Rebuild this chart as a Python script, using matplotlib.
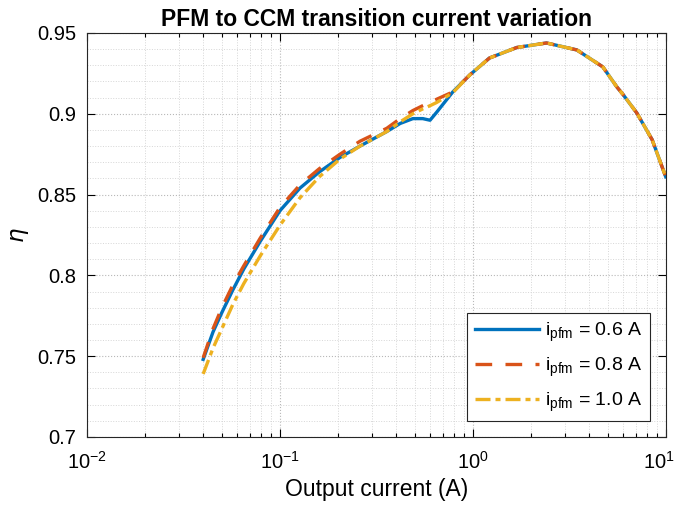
import numpy as np
import matplotlib
matplotlib.use('Agg')
import matplotlib.pyplot as plt
import matplotlib.transforms as mtransforms
from matplotlib.ticker import LogLocator, MultipleLocator, NullFormatter, FuncFormatter

plt.rcParams['font.family'] = ['Liberation Sans', 'DejaVu Sans']

# output current (A)
iout = [0.04, 0.045, 0.05, 0.057, 0.065, 0.079, 0.1, 0.127, 0.16, 0.205, 0.26,
        0.358, 0.42, 0.489, 0.55, 0.6, 0.65, 0.787, 0.964, 1.22, 1.69, 2.41,
        3.46, 4.72, 5.58, 6.0, 7.08, 8.5, 10.0]

# efficiency for each transition current
eta_06 = [0.748, 0.765, 0.777, 0.791, 0.804, 0.821, 0.840, 0.854, 0.864, 0.873, 0.880,
          0.889, 0.894, 0.897, 0.897, 0.896, 0.901, 0.9135, 0.924, 0.9345, 0.941, 0.9438,
          0.9395, 0.929, 0.9166, 0.912, 0.9005, 0.884, 0.861]
eta_08 = [0.749, 0.767, 0.780, 0.794, 0.806, 0.823, 0.842, 0.856, 0.866, 0.875, 0.883,
          0.891, 0.897, 0.902, 0.905, 0.907, 0.909, 0.9135, 0.924, 0.9345, 0.941, 0.9438,
          0.9395, 0.929, 0.9166, 0.912, 0.9005, 0.884, 0.861]
eta_10 = [0.739, 0.755, 0.767, 0.782, 0.795, 0.812, 0.831, 0.848, 0.861, 0.872, 0.880,
          0.889, 0.895, 0.900, 0.903, 0.905, 0.907, 0.913, 0.924, 0.9345, 0.941, 0.9438,
          0.9395, 0.929, 0.9166, 0.912, 0.9005, 0.884, 0.861]
labels = ['0.6', '0.8', '1.0']
xticks = [0.01, 0.1, 1, 10]

fig = plt.figure(figsize=(6.8, 5.15), dpi=100)
ax = fig.add_axes([0.128, 0.1515, 0.851, 0.7845])

ax.plot(iout, eta_06, color='#0072BD', lw=2.4, ls='-',
        label=r'$\mathregular{i_{pfm}}$ = %s A' % labels[0])
ax.plot(iout, eta_08, color='#D95319', lw=2.4, ls=(0, (5, 4)),
        label=r'$\mathregular{i_{pfm}}$ = %s A' % labels[1])
ax.plot(iout, eta_10, color='#EDB120', lw=2.4, ls=(0, (4.5, 1.5, 1.5, 1.5)),
        label=r'$\mathregular{i_{pfm}}$ = %s A' % labels[2])

ax.set_xscale('log')
ax.set_xlim(0.01, 10)
ax.set_ylim(0.7, 0.95)
ax.yaxis.set_major_locator(MultipleLocator(0.05))
ax.yaxis.set_minor_locator(MultipleLocator(0.01))
ax.yaxis.set_major_formatter(FuncFormatter(lambda v, p: ('%.2f' % v).rstrip('0').rstrip('.')))
ax.set_xticks(xticks)
ax.set_xticklabels([r'$\mathregular{10^{%d}}$' % round(np.log10(v)) for v in xticks])
ax.xaxis.set_minor_locator(LogLocator(base=10, subs=np.arange(2, 10)))
ax.xaxis.set_minor_formatter(NullFormatter())

ax.tick_params(which='both', direction='in', top=True, right=True, labelsize=14.5, width=0.8)
ax.tick_params(which='major', length=6)
ax.tick_params(axis='x', which='minor', length=3)
ax.tick_params(axis='y', which='minor', length=0)
ax.tick_params(axis='y', which='major', pad=8)
ax.tick_params(axis='x', which='major', pad=10)

ax.grid(True, which='major', ls=':', color='#b8b8b8', lw=0.8)
ax.grid(True, which='minor', ls=':', color='#d6d6d6', lw=0.7)
for s in ax.spines.values():
    s.set_color('#262626')
    s.set_linewidth(0.8)

ax.set_title('PFM to CCM transition current variation', fontsize=16.5, fontweight='bold', pad=5)
ax.set_xlabel('Output current (A)', fontsize=16.5, labelpad=4)
ax.set_ylabel(r'$\eta$', fontsize=16.5, labelpad=4)

leg = ax.legend(loc='lower right', fontsize=14, fancybox=False, framealpha=1,
                edgecolor='#262626', handlelength=3.3, handletextpad=0.3,
                borderaxespad=0.8, labelspacing=0.6, borderpad=0.4)
leg.get_frame().set_linewidth(0.8)

# keep the last x tick label inside the figure
last = ax.get_xticklabels()[-1]
last.set_transform(last.get_transform() + mtransforms.ScaledTranslation(-7 / 100, 0, fig.dpi_scale_trans))

fig.savefig('out.png', dpi=100)
